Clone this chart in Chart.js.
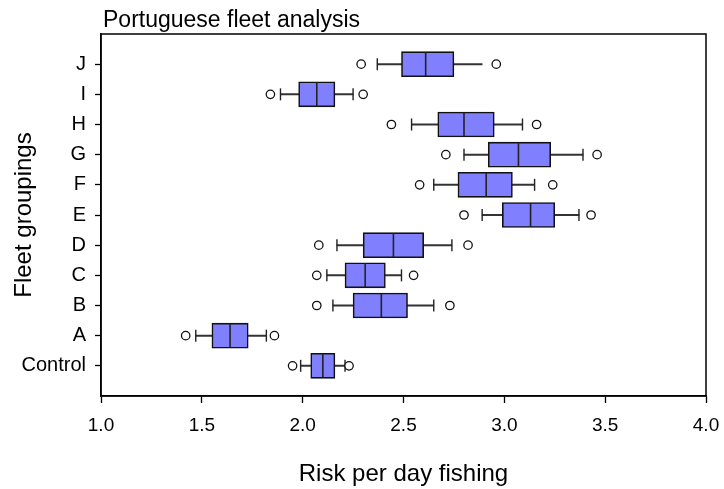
<!DOCTYPE html>
<html>
<head>
<meta charset="utf-8">
<title>Portuguese fleet analysis</title>
<script src="https://cdn.jsdelivr.net/npm/chart.js@4.4.1/dist/chart.umd.min.js"></script>
<style>
  html, body { margin: 0; padding: 0; background: #fff; }
  #wrap { width: 724px; height: 489px; }
</style>
</head>
<body>
<div id="wrap"><canvas id="chart" width="724" height="489"></canvas></div>
<script>
  // fleet groupings, bottom to top
  const categories = ["Control", "A", "B", "C", "D", "E", "F", "G", "H", "I", "J"];
  const lowOutlier  = [1.95, 1.42, 2.07, 2.07, 2.08, 2.80, 2.58, 2.71, 2.44, 1.84, 2.29];
  const whiskerLow  = [1.99, 1.47, 2.15, 2.12, 2.17, 2.89, 2.65, 2.80, 2.54, 1.89, 2.37];
  const q1          = [2.04, 1.55, 2.25, 2.21, 2.30, 2.99, 2.77, 2.92, 2.67, 1.98, 2.49];
  const median      = [2.10, 1.64, 2.39, 2.31, 2.45, 3.13, 2.91, 3.07, 2.80, 2.07, 2.61];
  const q3          = [2.16, 1.73, 2.52, 2.41, 2.60, 3.25, 3.04, 3.23, 2.95, 2.16, 2.75];
  const whiskerHigh = [2.21, 1.82, 2.65, 2.49, 2.74, 3.37, 3.15, 3.39, 3.09, 2.25, 2.89];
  const highOutlier = [2.23, 1.86, 2.73, 2.55, 2.82, 3.43, 3.24, 3.46, 3.16, 2.30, 2.96];
  const noUpperCap = ["J"];
  const xTicks = [1.0, 1.5, 2.0, 2.5, 3.0, 3.5, 4.0];

  const FONT = "'Liberation Sans', Arial, sans-serif";

  const whiskers = categories.map((c, i) => ({ x: [whiskerLow[i], whiskerHigh[i]], y: i }));
  const boxes = categories.map((c, i) => ({ x: [q1[i], q3[i]], y: i }));
  const medians = categories.map((c, i) => ({ x: median[i], y: i }));
  const caps = [];
  categories.forEach((c, i) => {
    caps.push({ x: whiskerLow[i], y: i });
    if (!noUpperCap.includes(c)) caps.push({ x: whiskerHigh[i], y: i });
  });
  const outliers = [];
  categories.forEach((c, i) => {
    outliers.push({ x: lowOutlier[i], y: i });
    outliers.push({ x: highOutlier[i], y: i });
  });

  // frame round the plot area + title at its top-left
  const framePlugin = {
    id: "frame",
    afterDraw(chart) {
      const { ctx, chartArea: a } = chart;
      ctx.save();
      ctx.strokeStyle = "#000";
      ctx.lineWidth = 1.5;
      ctx.strokeRect(a.left, a.top, a.right - a.left, a.bottom - a.top);
      ctx.fillStyle = "#000";
      ctx.font = "23px " + FONT;
      ctx.textBaseline = "alphabetic";
      ctx.textAlign = "left";
      ctx.fillText("Portuguese fleet analysis", a.left + 2, 27);
      ctx.restore();
    }
  };

  new Chart(document.getElementById("chart"), {
    data: {
      datasets: [
        {
          type: "bar", label: "whisker", data: whiskers, indexAxis: "y",
          grouped: false, barThickness: 1.4, backgroundColor: "#333", borderWidth: 0, order: 5
        },
        {
          type: "bar", label: "box", data: boxes, indexAxis: "y",
          grouped: false, barThickness: 25, backgroundColor: "#8080ff",
          borderColor: "#111", borderWidth: 1.6, borderSkipped: false, order: 4
        },
        {
          type: "scatter", label: "median", data: medians,
          pointStyle: "line", rotation: 90, pointRadius: 12, borderColor: "#222",
          borderWidth: 1.6, order: 3
        },
        {
          type: "scatter", label: "cap", data: caps,
          pointStyle: "line", rotation: 90, pointRadius: 6, borderColor: "#222",
          borderWidth: 1.4, order: 2
        },
        {
          type: "scatter", label: "outlier", data: outliers,
          pointStyle: "circle", pointRadius: 4.2, backgroundColor: "#fff",
          borderColor: "#111", borderWidth: 1.3, order: 1
        }
      ]
    },
    options: {
      responsive: false,
      animation: false,
      devicePixelRatio: 1,
      layout: { padding: { top: 34, right: 18, left: 0, bottom: 0 } },
      plugins: { legend: { display: false }, tooltip: { enabled: false }, title: { display: false } },
      scales: {
        x: {
          type: "linear", min: 1, max: 4, offset: false,
          afterBuildTicks: s => { s.ticks = xTicks.map(v => ({ value: v })); },
          afterFit: s => { s.height = 93; s.paddingLeft = 0; s.paddingRight = 0; },
          grid: { drawOnChartArea: false, offset: false, color: "#000", tickLength: 7, tickWidth: 1.3 },
          border: { display: true, color: "#000", width: 1.5 },
          ticks: {
            color: "#000", padding: 11, maxRotation: 0,
            font: { family: FONT, size: 19 },
            callback: v => v.toFixed(1)
          },
          title: {
            display: true, text: "Risk per day fishing", color: "#000",
            font: { family: FONT, size: 24 }, padding: { top: 0, bottom: 0 }
          }
        },
        y: {
          type: "linear", min: -1, max: 11, offset: false,
          afterBuildTicks: s => { s.ticks = categories.map((c, i) => ({ value: i })); },
          afterFit: s => { s.width = 101; s.paddingTop = 0; s.paddingBottom = 0; },
          grid: { drawOnChartArea: false, offset: false, color: "#000", tickLength: 6, tickWidth: 1.3 },
          border: { display: true, color: "#000", width: 1.5 },
          ticks: {
            color: "#000", padding: 9,
            font: { family: FONT, size: 20 },
            callback: v => categories[v] ?? ""
          },
          title: {
            display: true, text: "Fleet groupings", color: "#000",
            font: { family: FONT, size: 24 }, padding: { top: 10, bottom: 0 }
          }
        }
      }
    },
    plugins: [framePlugin]
  });
</script>
</body>
</html>
